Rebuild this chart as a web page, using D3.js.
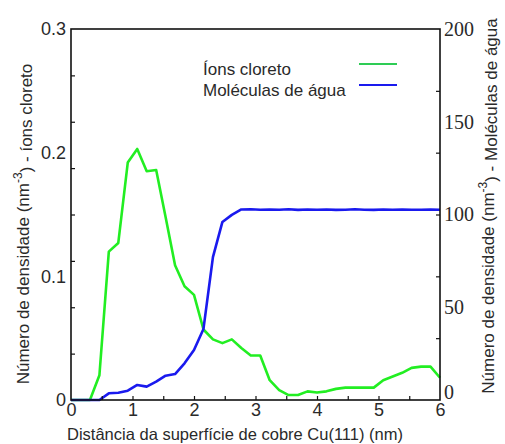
<!DOCTYPE html>
<html>
<head>
<meta charset="utf-8">
<script src="https://cdn.jsdelivr.net/npm/d3@7"></script>
<style>
  html, body { margin: 0; padding: 0; background: #fff; }
  svg { display: block; }
</style>
</head>
<body>
<svg id="chart" width="505" height="444"></svg>
<script>
// Distance from the Cu(111) surface (nm)
const distance = [0, 0.154, 0.308, 0.462, 0.615, 0.769, 0.923, 1.077, 1.231, 1.385,
  1.538, 1.692, 1.846, 2.0, 2.154, 2.308, 2.462, 2.615, 2.769, 2.923,
  3.077, 3.231, 3.385, 3.538, 3.692, 3.846, 4.0, 4.154, 4.308, 4.462,
  4.615, 4.769, 4.923, 5.077, 5.231, 5.385, 5.538, 5.692, 5.846, 6.0];

// Number density of chloride ions (nm^-3), left axis
const chloride = [0, 0, 0, 0.020, 0.120, 0.127, 0.192, 0.203, 0.185, 0.186,
  0.148, 0.109, 0.092, 0.085, 0.057, 0.049, 0.046, 0.049, 0.042, 0.036,
  0.036, 0.016, 0.008, 0.004, 0.004, 0.007, 0.006, 0.007, 0.009, 0.010,
  0.010, 0.010, 0.010, 0.016, 0.019, 0.022, 0.026, 0.027, 0.027, 0.018];

// Number density of water molecules (nm^-3), right axis
const water = [0, 0, 0, 0, 3.6, 3.9, 5.0, 8.1, 7.2, 9.9,
  13.1, 14.0, 19.8, 27.0, 38.3, 77, 96, 99.8, 102.7, 102.8,
  102.6, 102.7, 102.6, 102.8, 102.5, 102.7, 102.6, 102.7, 102.5, 102.6,
  102.8, 102.6, 102.5, 102.7, 102.6, 102.7, 102.6, 102.6, 102.7, 102.6];

const xTicks = [0, 1, 2, 3, 4, 5, 6];
const leftTicks = [0, 0.1, 0.2, 0.3];
const rightTicks = [0, 50, 100, 150, 200];

const seriesNames = ["Íons cloreto", "Moléculas de água"];
const seriesColors = ["#22ee22", "#1a1aee"];
const legendColors = ["#2ecc55", "#1a1aee"];

const svg = d3.select("#chart");
const m = { left: 71, right: 440, top: 29, bottom: 400 };

const x = d3.scaleLinear().domain([0, 6]).range([m.left, m.right]);
const yL = d3.scaleLinear().domain([0, 0.3]).range([m.bottom, m.top]);
const yR = d3.scaleLinear().domain([0, 200]).range([m.bottom, m.top]);

const sans = "'Liberation Sans', Arial, Helvetica, sans-serif";
const serif = "'Liberation Serif', 'Times New Roman', serif";
const textColor = "#2a2a2a";

// curves (drawn first so the frame sits on top)
const series = [
  { values: chloride, y: yL, color: seriesColors[0] },
  { values: water, y: yR, color: seriesColors[1] }
];
series.forEach(s => {
  const line = d3.line()
    .x((d, i) => x(distance[i]))
    .y(d => s.y(d));
  svg.append("path")
    .datum(s.values)
    .attr("d", line)
    .attr("fill", "none")
    .attr("stroke", s.color)
    .attr("stroke-width", 2.6)
    .attr("stroke-linejoin", "round");
});

// minor tick marks (inward)
const tickStyle = g => {
  g.select(".domain").remove();
  g.selectAll("line").attr("stroke", "#111").attr("stroke-width", 1.2);
  g.selectAll("text").remove();
};
svg.append("g")
  .attr("transform", `translate(0,${m.bottom})`)
  .call(d3.axisTop(x).tickValues(d3.range(0.5, 6, 0.5)).tickSize(4))
  .call(tickStyle);
svg.append("g")
  .attr("transform", `translate(${m.left},0)`)
  .call(d3.axisRight(yR).tickValues(d3.range(25, 200, 25)).tickSize(4))
  .call(tickStyle);
svg.append("g")
  .attr("transform", `translate(${m.right},0)`)
  .call(d3.axisLeft(yL).tickValues([0.05, 0.1, 0.15, 0.2, 0.25]).tickSize(4))
  .call(tickStyle);

// frame
svg.append("rect")
  .attr("x", m.left).attr("y", m.top)
  .attr("width", m.right - m.left).attr("height", m.bottom - m.top)
  .attr("fill", "none").attr("stroke", "#111").attr("stroke-width", 1.6);

// tick labels
const labelStyle = (g, font, size) => {
  g.select(".domain").remove();
  g.selectAll("line").remove();
  g.selectAll("text").attr("font-family", font).attr("font-size", size).attr("fill", textColor);
};
svg.append("g")
  .attr("transform", `translate(0,${m.bottom})`)
  .call(d3.axisBottom(x).tickValues(xTicks).tickFormat(d3.format("d")).tickSize(0).tickPadding(3))
  .call(g => labelStyle(g, sans, 18));
svg.append("g")
  .attr("transform", `translate(${m.left},0)`)
  .call(d3.axisLeft(yL).tickValues(leftTicks).tickFormat(d => d === 0 ? "0" : d3.format(".1f")(d)).tickSize(0).tickPadding(5))
  .call(g => labelStyle(g, sans, 18));
svg.append("g")
  .attr("transform", `translate(${m.right},0)`)
  .call(d3.axisRight(yR).tickValues(rightTicks).tickFormat(d3.format("d")).tickSize(0).tickPadding(4))
  .call(g => labelStyle(g, serif, 20))
  .call(g => g.selectAll(".tick").filter(d => d === 0).select("text").attr("dy", "-0.1em"));

// axis titles
svg.append("text")
  .attr("x", 235).attr("y", 440)
  .attr("text-anchor", "middle")
  .attr("font-family", sans).attr("font-size", 16.5).attr("fill", textColor)
  .text("Distância da superfície de cobre Cu(111) (nm)");

function densityTitle(cx, cy, suffix) {
  const t = svg.append("text")
    .attr("transform", `translate(${cx},${cy}) rotate(-90)`)
    .attr("text-anchor", "middle")
    .attr("font-family", sans).attr("font-size", 17).attr("fill", textColor);
  t.append("tspan").text("Número de densidade (nm");
  t.append("tspan").attr("dy", "-0.55em").attr("font-size", 12).text("-3");
  t.append("tspan").attr("dy", "0.55em").text(") - " + suffix);
}
densityTitle(29, 224, "íons cloreto");
densityTitle(494, 206, "Moléculas de água");

// legend
const legend = svg.append("g");
seriesNames.forEach((name, i) => {
  const yy = 69 + i * 21;
  legend.append("text")
    .attr("x", 203).attr("y", yy + 6)
    .attr("font-family", sans).attr("font-size", 17).attr("fill", textColor)
    .text(name);
  legend.append("line")
    .attr("x1", 359).attr("x2", 397)
    .attr("y1", yy - 5).attr("y2", yy - 5)
    .attr("stroke", legendColors[i]).attr("stroke-width", 2.2);
});
</script>
</body>
</html>
